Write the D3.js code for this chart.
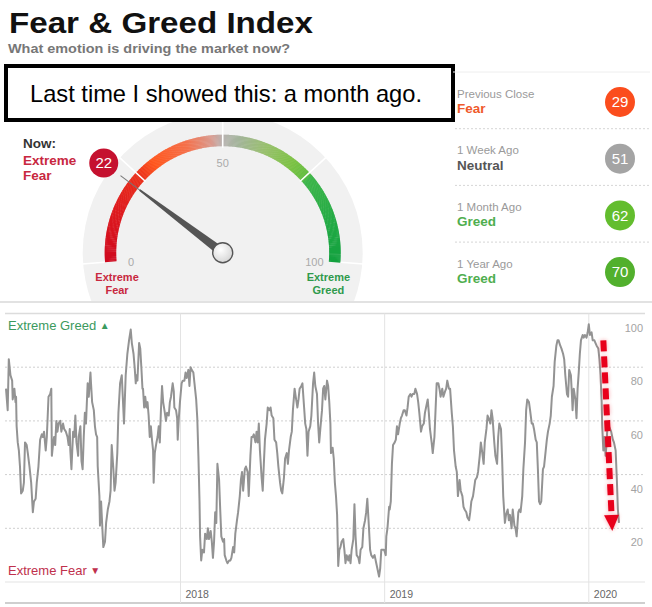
<!DOCTYPE html>
<html>
<head>
<meta charset="utf-8">
<script src="https://cdn.jsdelivr.net/npm/d3@7"></script>
<style>
  body { margin: 0; background: #fff; }
  svg { display: block; font-family: "Liberation Sans", Arial, Helvetica, sans-serif; }
</style>
</head>
<body>
<div id="chart"></div>
<script>
// ---- data ----
var titleText = "Fear & Greed Index";
var subtitleText = "What emotion is driving the market now?";
var noteText = "Last time I showed this: a month ago.";

var nowValue = 22;
var nowMood = ["Extreme", "Fear"];
var gaugeLabels = [0, 50, 100];
var gaugeEnds = [["Extreme", "Fear"], ["Extreme", "Greed"]];

var historyLabels = ["Previous Close", "1 Week Ago", "1 Month Ago", "1 Year Ago"];
var historyMoods = ["Fear", "Neutral", "Greed", "Greed"];
var historyValues = [29, 51, 62, 70];

var yTicks = [20, 40, 60, 80, 100];
var yearTicks = ["2018", "2019", "2020"];

var series2017 = [["2017-02-23",72],["2017-02-26",64],["2017-02-28",83],["2017-03-03",77],["2017-03-06",75],["2017-03-07",68],["2017-03-10",72],["2017-03-12",67],["2017-03-13",69],["2017-03-14",58],["2017-03-16",52],["2017-03-18",49],["2017-03-20",43],["2017-03-22",33],["2017-03-25",34],["2017-03-27",37],["2017-03-29",52],["2017-04-01",51],["2017-04-03",48],["2017-04-06",43],["2017-04-09",37],["2017-04-12",26],["2017-04-14",30],["2017-04-17",31],["2017-04-19",37],["2017-04-22",43],["2017-04-25",53],["2017-04-28",55],["2017-04-30",54],["2017-05-02",56],["2017-05-05",49],["2017-05-07",54],["2017-05-10",69],["2017-05-13",70],["2017-05-15",72],["2017-05-16",47],["2017-05-18",51],["2017-05-20",54],["2017-05-22",51],["2017-05-24",60],["2017-05-26",56],["2017-05-28",59],["2017-05-31",60],["2017-06-02",56],["2017-06-05",59],["2017-06-07",57],["2017-06-10",56],["2017-06-13",54],["2017-06-15",51],["2017-06-17",57],["2017-06-18",49],["2017-06-20",42],["2017-06-23",56],["2017-06-25",54],["2017-06-27",62],["2017-06-29",52],["2017-07-02",47],["2017-07-03",54],["2017-07-06",58],["2017-07-08",45],["2017-07-10",42],["2017-07-12",54],["2017-07-14",63],["2017-07-16",59],["2017-07-19",74],["2017-07-21",69],["2017-07-24",78],["2017-07-25",74],["2017-07-27",67],["2017-07-30",64],["2017-08-01",58],["2017-08-03",55],["2017-08-05",54],["2017-08-06",43],["2017-08-09",32],["2017-08-10",21],["2017-08-12",30],["2017-08-15",17],["2017-08-16",13],["2017-08-19",15],["2017-08-21",22],["2017-08-24",27],["2017-08-27",30],["2017-08-29",34],["2017-08-31",51],["2017-09-03",42],["2017-09-05",34],["2017-09-07",37],["2017-09-10",48],["2017-09-12",63],["2017-09-15",74],["2017-09-18",77],["2017-09-20",68],["2017-09-22",59],["2017-09-25",77],["2017-09-28",85],["2017-10-01",90],["2017-10-04",94],["2017-10-06",89],["2017-10-09",85],["2017-10-11",80],["2017-10-13",74],["2017-10-14",77],["2017-10-16",75],["2017-10-19",89],["2017-10-21",87],["2017-10-23",80],["2017-10-25",72],["2017-10-26",72],["2017-10-28",65],["2017-10-30",69],["2017-11-01",65],["2017-11-03",67],["2017-11-05",62],["2017-11-07",54],["2017-11-09",58],["2017-11-11",53],["2017-11-13",49],["2017-11-14",37],["2017-11-16",48],["2017-11-19",52],["2017-11-21",54],["2017-11-23",58],["2017-11-25",52],["2017-11-27",64],["2017-11-29",73],["2017-12-01",67],["2017-12-04",63],["2017-12-06",60],["2017-12-08",63],["2017-12-11",62],["2017-12-13",67],["2017-12-15",69],["2017-12-18",74],["2017-12-20",71],["2017-12-21",65],["2017-12-24",64],["2017-12-26",61],["2017-12-27",53],["2017-12-29",61],["2017-12-31",67]];

var series2018 = [["2018-01-03",74],["2018-01-05",75],["2018-01-08",75],["2018-01-10",78],["2018-01-12",76],["2018-01-15",79],["2018-01-17",73],["2018-01-19",80],["2018-01-21",79],["2018-01-24",78],["2018-01-26",74],["2018-01-29",68],["2018-01-31",61],["2018-02-02",47],["2018-02-04",30],["2018-02-05",17],["2018-02-07",8],["2018-02-09",12],["2018-02-12",11],["2018-02-14",18],["2018-02-17",16],["2018-02-19",20],["2018-02-21",16],["2018-02-24",19],["2018-02-26",15],["2018-02-28",9],["2018-03-02",15],["2018-03-04",26],["2018-03-06",22],["2018-03-08",44],["2018-03-09",42],["2018-03-11",38],["2018-03-13",27],["2018-03-15",17],["2018-03-18",15],["2018-03-20",16],["2018-03-21",10],["2018-03-24",8],["2018-03-26",7],["2018-03-29",8],["2018-03-31",8],["2018-04-02",9],["2018-04-05",13],["2018-04-07",11],["2018-04-09",18],["2018-04-12",23],["2018-04-14",26],["2018-04-17",32],["2018-04-19",38],["2018-04-21",41],["2018-04-23",34],["2018-04-26",42],["2018-04-28",43],["2018-05-01",41],["2018-05-03",32],["2018-05-06",47],["2018-05-08",54],["2018-05-10",54],["2018-05-12",55],["2018-05-15",52],["2018-05-17",56],["2018-05-19",52],["2018-05-21",59],["2018-05-23",49],["2018-05-26",39],["2018-05-28",34],["2018-05-30",44],["2018-06-01",53],["2018-06-04",59],["2018-06-06",65],["2018-06-09",64],["2018-06-11",65],["2018-06-13",62],["2018-06-16",61],["2018-06-18",53],["2018-06-21",52],["2018-06-23",48],["2018-06-25",43],["2018-06-28",37],["2018-06-30",34],["2018-07-02",33],["2018-07-05",39],["2018-07-07",46],["2018-07-10",48],["2018-07-12",44],["2018-07-14",49],["2018-07-17",54],["2018-07-19",56],["2018-07-21",64],["2018-07-24",72],["2018-07-26",69],["2018-07-29",65],["2018-07-31",68],["2018-08-02",72],["2018-08-05",73],["2018-08-07",74],["2018-08-10",65],["2018-08-12",59],["2018-08-14",57],["2018-08-16",47],["2018-08-18",56],["2018-08-21",58],["2018-08-23",62],["2018-08-26",74],["2018-08-28",78],["2018-08-30",73],["2018-09-02",70],["2018-09-04",59],["2018-09-06",52],["2018-09-08",57],["2018-09-11",64],["2018-09-13",72],["2018-09-15",73],["2018-09-17",68],["2018-09-20",75],["2018-09-22",73],["2018-09-24",67],["2018-09-26",59],["2018-09-27",48],["2018-09-30",50],["2018-10-02",46],["2018-10-04",37],["2018-10-06",32],["2018-10-08",25],["2018-10-10",6],["2018-10-12",12],["2018-10-14",13],["2018-10-16",15],["2018-10-19",16],["2018-10-21",12],["2018-10-23",7],["2018-10-25",10],["2018-10-28",8],["2018-10-30",10],["2018-11-01",7],["2018-11-03",12],["2018-11-06",16],["2018-11-08",29],["2018-11-10",17],["2018-11-12",10],["2018-11-15",9],["2018-11-17",7],["2018-11-19",12],["2018-11-22",13],["2018-11-24",20],["2018-11-27",23],["2018-11-29",26],["2018-12-01",31],["2018-12-04",20],["2018-12-06",12],["2018-12-08",10],["2018-12-11",9],["2018-12-14",10],["2018-12-17",7],["2018-12-19",5],["2018-12-22",2],["2018-12-24",5],["2018-12-26",12],["2018-12-29",12],["2018-12-31",12]];

var series2019 = [["2019-01-03",10],["2019-01-04",17],["2019-01-06",20],["2019-01-09",28],["2019-01-10",27],["2019-01-12",30],["2019-01-14",44],["2019-01-16",51],["2019-01-19",52],["2019-01-21",53],["2019-01-23",58],["2019-01-25",55],["2019-01-28",59],["2019-01-30",61],["2019-02-01",62],["2019-02-04",64],["2019-02-06",64],["2019-02-09",62],["2019-02-11",65],["2019-02-13",69],["2019-02-16",70],["2019-02-18",69],["2019-02-20",70],["2019-02-23",70],["2019-02-25",72],["2019-02-28",70],["2019-03-02",67],["2019-03-04",63],["2019-03-07",56],["2019-03-09",58],["2019-03-12",59],["2019-03-14",63],["2019-03-16",65],["2019-03-19",68],["2019-03-21",63],["2019-03-23",57],["2019-03-26",52],["2019-03-28",48],["2019-03-31",54],["2019-04-02",64],["2019-04-04",74],["2019-04-07",74],["2019-04-09",72],["2019-04-11",69],["2019-04-14",72],["2019-04-16",69],["2019-04-19",71],["2019-04-21",72],["2019-04-23",75],["2019-04-26",72],["2019-04-28",72],["2019-05-01",63],["2019-05-03",58],["2019-05-05",49],["2019-05-08",43],["2019-05-10",41],["2019-05-12",32],["2019-05-15",38],["2019-05-17",34],["2019-05-20",32],["2019-05-22",28],["2019-05-24",27],["2019-05-27",26],["2019-05-29",24],["2019-06-01",23],["2019-06-03",26],["2019-06-05",30],["2019-06-08",32],["2019-06-10",35],["2019-06-12",38],["2019-06-15",39],["2019-06-17",41],["2019-06-20",47],["2019-06-22",52],["2019-06-24",49],["2019-06-27",44],["2019-06-29",52],["2019-07-02",57],["2019-07-04",62],["2019-07-06",61],["2019-07-09",59],["2019-07-11",64],["2019-07-13",61],["2019-07-16",52],["2019-07-18",47],["2019-07-21",44],["2019-07-23",54],["2019-07-25",59],["2019-07-28",57],["2019-07-30",46],["2019-08-01",32],["2019-08-04",22],["2019-08-06",25],["2019-08-09",27],["2019-08-11",23],["2019-08-13",25],["2019-08-16",20],["2019-08-18",27],["2019-08-21",21],["2019-08-23",20],["2019-08-25",17],["2019-08-28",26],["2019-08-30",27],["2019-09-01",26],["2019-09-04",32],["2019-09-06",42],["2019-09-09",52],["2019-09-11",64],["2019-09-13",68],["2019-09-16",67],["2019-09-18",64],["2019-09-21",59],["2019-09-23",59],["2019-09-25",57],["2019-09-28",53],["2019-09-30",52],["2019-10-02",42],["2019-10-04",30],["2019-10-06",29],["2019-10-08",30],["2019-10-11",42],["2019-10-13",43],["2019-10-16",49],["2019-10-18",53],["2019-10-20",56],["2019-10-23",59],["2019-10-25",62],["2019-10-27",69],["2019-10-30",73],["2019-11-01",82],["2019-11-04",88],["2019-11-06",90],["2019-11-08",90],["2019-11-11",88],["2019-11-13",87],["2019-11-16",85],["2019-11-18",83],["2019-11-20",77],["2019-11-23",70],["2019-11-25",69],["2019-11-27",79],["2019-11-30",77],["2019-12-02",69],["2019-12-03",64],["2019-12-05",72],["2019-12-08",68],["2019-12-10",61],["2019-12-12",72],["2019-12-14",78],["2019-12-16",85],["2019-12-18",90],["2019-12-21",92],["2019-12-23",91],["2019-12-25",92],["2019-12-28",91],["2019-12-30",93]];

var series2020 = [["2020-01-01",96],["2020-01-03",92],["2020-01-06",93],["2020-01-08",90],["2020-01-11",90],["2020-01-13",89],["2020-01-15",88],["2020-01-18",87],["2020-01-20",83],["2020-01-22",77],["2020-01-24",67],["2020-01-25",58],["2020-01-27",49],["2020-01-29",54],["2020-01-31",47],["2020-02-02",52],["2020-02-03",57],["2020-02-06",58],["2020-02-08",57],["2020-02-10",56],["2020-02-13",53],["2020-02-15",52],["2020-02-18",49],["2020-02-20",39],["2020-02-22",27],["2020-02-24",22]];

// red annotation arrow, in data terms (date, index value)
var arrowFrom = ["2020-01-27", 90];
var arrowTo = ["2020-02-12", 19];

// ---- setup ----
var W = 652, H = 607;
var parse = d3.timeParse("%Y-%m-%d");
var series = [].concat(series2017, series2018, series2019, series2020).map(function(d) {
    return { date: parse(d[0]), value: d[1] };
});

var svg = d3.select("#chart")
    .append("svg")
    .attr("width", W)
    .attr("height", H);

var defs = svg.append("defs");

// ---- gauge ----
var cx = 222.7, cy = 252.7;
var deg = Math.PI / 180;
var angle = d3.scaleLinear().domain([0, 100]).range([-94.6 * deg, 94.6 * deg]);
var gaugeColor = d3.scaleLinear()
    .domain([0, 15, 25, 30, 40, 47, 50, 54, 62, 70, 75, 76, 90, 100])
    .range(["#cf0a1f", "#df1b1d", "#ea301b", "#ff561d", "#f5704a", "#d99a8e", "#b9b4b2",
            "#a4b49c", "#98c06c", "#7dc244", "#62bd40", "#3db54a", "#22aa45", "#13a13f"]);

// background disc stops at the rule above the history chart
defs.append("clipPath").attr("id", "gclip")
    .append("rect").attr("x", -cx).attr("y", -cy).attr("width", W).attr("height", 301);

var gauge = svg.append("g").attr("transform", "translate(" + cx + "," + cy + ")");

gauge.append("circle")
    .attr("r", 140)
    .attr("clip-path", "url(#gclip)")
    .attr("fill", "#f1f1f1");

var arc = d3.arc().innerRadius(106.5).outerRadius(118);
var slices = d3.range(0, 100, 0.25);
gauge.selectAll("path.slice")
    .data(slices)
    .enter().append("path")
    .attr("class", "slice")
    .attr("d", function(v) { return arc({ startAngle: angle(v), endAngle: angle(Math.min(100, v + 0.25)) + 0.004 }); })
    .attr("fill", function(v) { return gaugeColor(v + 0.125); });

// white dividers / ticks
gauge.selectAll("line.gtick")
    .data([0, 25, 50, 75, 100])
    .enter().append("line")
    .attr("class", "gtick")
    .attr("x1", function(v) { var r = (v === 0 || v === 100) ? 118.5 : 105; return r * Math.sin(angle(v)); })
    .attr("y1", function(v) { var r = (v === 0 || v === 100) ? 118.5 : 105; return -r * Math.cos(angle(v)); })
    .attr("x2", function(v) { return 141 * Math.sin(angle(v)); })
    .attr("y2", function(v) { return -141 * Math.cos(angle(v)); })
    .attr("stroke", "#fff")
    .attr("stroke-width", 1.6);

gauge.selectAll("text.glabel")
    .data(gaugeLabels)
    .enter().append("text")
    .attr("class", "glabel")
    .attr("x", function(v) { return 92 * Math.sin(angle(v)); })
    .attr("y", function(v) { return -90 * Math.cos(angle(v)) + (v === 50 ? 0 : 2); })
    .attr("dy", "0.35em")
    .attr("text-anchor", "middle")
    .attr("font-size", 11)
    .attr("fill", "#aaa")
    .text(function(v) { return v; });

gaugeEnds.forEach(function(lines, i) {
    var v = i === 0 ? 0 : 100;
    var t = gauge.append("text")
        .attr("x", 106 * Math.sin(angle(v)))
        .attr("y", 28)
        .attr("text-anchor", "middle")
        .attr("font-size", 11)
        .attr("font-weight", "bold")
        .attr("fill", i === 0 ? "#c8283f" : "#2f9a4c");
    lines.forEach(function(s, j) {
        t.append("tspan").attr("x", 106 * Math.sin(angle(v))).attr("dy", j === 0 ? 0 : 13.5).text(s);
    });
});

// needle
var needleDeg = angle(nowValue) / deg;
var needle = gauge.append("g").attr("transform", "rotate(" + needleDeg + ")");
needle.append("line")
    .attr("x1", 0).attr("y1", 0).attr("x2", 0).attr("y2", -128)
    .attr("stroke", "#777").attr("stroke-width", 1);
needle.append("path")
    .attr("d", "M-4.6,0 L-0.9,-104 L0.9,-104 L4.6,0 Z")
    .attr("fill", "#555");

var knob = defs.append("radialGradient").attr("id", "knob").attr("cx", "40%").attr("cy", "35%").attr("r", "70%");
knob.append("stop").attr("offset", "0%").attr("stop-color", "#ffffff");
knob.append("stop").attr("offset", "100%").attr("stop-color", "#d4d4d4");
gauge.append("circle")
    .attr("r", 10)
    .attr("fill", "url(#knob)")
    .attr("stroke", "#555")
    .attr("stroke-width", 1.4);

// "now" badge on the needle's line
var badgeR = 149;
gauge.append("circle")
    .attr("cx", badgeR * Math.sin(angle(nowValue)))
    .attr("cy", -badgeR * Math.cos(angle(nowValue)))
    .attr("r", 14.5)
    .attr("fill", "#c5112f");
gauge.append("text")
    .attr("x", badgeR * Math.sin(angle(nowValue)))
    .attr("y", -badgeR * Math.cos(angle(nowValue)))
    .attr("dy", "0.36em")
    .attr("text-anchor", "middle")
    .attr("font-size", 15)
    .attr("fill", "#fff")
    .text(nowValue);

svg.append("text")
    .attr("x", 23).attr("y", 148)
    .attr("font-size", 13.5).attr("font-weight", "bold").attr("fill", "#333")
    .text("Now:");
nowMood.forEach(function(s, i) {
    svg.append("text")
        .attr("x", 23).attr("y", 165 + i * 15)
        .attr("font-size", 13.5).attr("font-weight", "bold").attr("fill", "#c8283f")
        .text(s);
});

// ---- header + note box ----
svg.append("text")
    .attr("x", 9).attr("y", 33)
    .attr("font-size", 29).attr("font-weight", "bold").attr("fill", "#111")
    .attr("textLength", 304).attr("lengthAdjust", "spacingAndGlyphs")
    .text(titleText);
svg.append("text")
    .attr("x", 8).attr("y", 52.5)
    .attr("font-size", 13).attr("font-weight", "bold").attr("fill", "#777")
    .attr("textLength", 282).attr("lengthAdjust", "spacingAndGlyphs")
    .text(subtitleText);

svg.append("rect")
    .attr("x", 6).attr("y", 66).attr("width", 447).attr("height", 54)
    .attr("fill", "#fff").attr("stroke", "#000").attr("stroke-width", 4);
svg.append("text")
    .attr("x", 30).attr("y", 101.5)
    .attr("font-size", 24).attr("fill", "#000")
    .attr("textLength", 392).attr("lengthAdjust", "spacingAndGlyphs")
    .text(noteText);

// ---- history list on the right ----
var moodColor = { "Fear": "#ef5a2c", "Neutral": "#555", "Greed": "#4fae4f" };
var circleColor = d3.scaleThreshold().domain([25, 45, 56, 66]).range(["#c5112f", "#fb4d1d", "#a4a4a4", "#63bd2e", "#52b02d"]);
var rows = d3.scaleBand().domain(historyLabels).range([72, 298.8]);

svg.append("line").attr("x1", 453).attr("x2", 650).attr("y1", 72).attr("y2", 72)
    .attr("stroke", "#eee").attr("stroke-width", 1);

var row = svg.selectAll("g.row")
    .data(historyLabels)
    .enter().append("g")
    .attr("class", "row")
    .attr("transform", function(d) { return "translate(0," + rows(d) + ")"; });

row.filter(function(d, i) { return i > 0; })
    .append("line")
    .attr("x1", 455).attr("x2", 650).attr("y1", 0).attr("y2", 0)
    .attr("stroke", "#d6d6d6").attr("stroke-dasharray", "2,2");

row.append("text")
    .attr("x", 457).attr("y", 25.5)
    .attr("font-size", 11.5).attr("fill", "#9a9a9a")
    .text(function(d) { return d; });
row.append("text")
    .attr("x", 457).attr("y", 41)
    .attr("font-size", 13.5).attr("font-weight", "bold")
    .attr("fill", function(d, i) { return moodColor[historyMoods[i]]; })
    .text(function(d, i) { return historyMoods[i]; });
row.append("circle")
    .attr("cx", 620).attr("cy", 30).attr("r", 15)
    .attr("fill", function(d, i) { return circleColor(historyValues[i]); });
row.append("text")
    .attr("x", 620).attr("y", 30).attr("dy", "0.36em")
    .attr("text-anchor", "middle").attr("font-size", 15).attr("fill", "#fff")
    .text(function(d, i) { return historyValues[i]; });

// separator above the history chart
svg.append("line").attr("x1", 0).attr("x2", W).attr("y1", 302).attr("y2", 302)
    .attr("stroke", "#e2e2e2").attr("stroke-width", 2);

// ---- history line chart ----
var x = d3.scaleTime()
    .domain(d3.extent(series, function(d) { return d.date; }))
    .range([6, 619]);
var y = d3.scaleLinear().domain([0, 100]).range([582, 313.5]);

var plot = svg.append("g");

plot.selectAll("line.grid")
    .data(yTicks.filter(function(v) { return v < 100; }))
    .enter().append("line")
    .attr("class", "grid")
    .attr("x1", 5).attr("x2", 645)
    .attr("y1", function(v) { return y(v); }).attr("y2", function(v) { return y(v); })
    .attr("stroke", "#cfcfcf").attr("stroke-dasharray", "2,2");

plot.append("line").attr("x1", 5).attr("x2", 645).attr("y1", y(100)).attr("y2", y(100))
    .attr("stroke", "#dcdcdc").attr("stroke-width", 1.5);
plot.append("line").attr("x1", 5).attr("x2", 645).attr("y1", y(0)).attr("y2", y(0))
    .attr("stroke", "#e4e4e4").attr("stroke-width", 1.2);
plot.append("line").attr("x1", 5).attr("x2", 645).attr("y1", 603).attr("y2", 603)
    .attr("stroke", "#cfcfcf").attr("stroke-width", 2);

plot.selectAll("line.year")
    .data(yearTicks)
    .enter().append("line")
    .attr("class", "year")
    .attr("x1", function(d) { return x(parse(d + "-01-01")); })
    .attr("x2", function(d) { return x(parse(d + "-01-01")); })
    .attr("y1", y(100)).attr("y2", 603)
    .attr("stroke", "#e3e3e3").attr("stroke-width", 1);

plot.selectAll("text.year")
    .data(yearTicks)
    .enter().append("text")
    .attr("class", "year")
    .attr("x", function(d) { return x(parse(d + "-01-01")) + 5; })
    .attr("y", 598)
    .attr("font-size", 10.5).attr("fill", "#666")
    .text(function(d) { return d; });

plot.selectAll("text.ytick")
    .data(yTicks)
    .enter().append("text")
    .attr("class", "ytick")
    .attr("x", 643)
    .attr("y", function(v) { return y(v) + 18; })
    .attr("text-anchor", "end")
    .attr("font-size", 11).attr("fill", "#a3a3a3")
    .text(function(v) { return v; });

var greed = plot.append("text").attr("x", 8).attr("y", 330)
    .attr("font-size", 13).attr("fill", "#3b9a5e");
greed.append("tspan").text("Extreme Greed ");
greed.append("tspan").attr("font-size", 10).attr("dy", -1).text("▲");

var fear = plot.append("text").attr("x", 8).attr("y", 575)
    .attr("font-size", 13).attr("fill", "#c0304c");
fear.append("tspan").text("Extreme Fear ");
fear.append("tspan").attr("font-size", 10).attr("dy", -1).text("▼");

var line = d3.line()
    .x(function(d) { return x(d.date); })
    .y(function(d) { return y(d.value); });

plot.append("path")
    .datum(series)
    .attr("fill", "none")
    .attr("stroke", "#939393")
    .attr("stroke-width", 2)
    .attr("stroke-linejoin", "round")
    .attr("d", line);

// ---- red dashed arrow ----
var ax1 = x(parse(arrowFrom[0])), ay1 = y(arrowFrom[1]);
var ax2 = x(parse(arrowTo[0])), ay2 = y(arrowTo[1]);
var len = Math.hypot(ax2 - ax1, ay2 - ay1);
var ux = (ax2 - ax1) / len, uy = (ay2 - ay1) / len;
var headLen = 16, headHalf = 7.5;
var bx = ax2 - ux * headLen, by = ay2 - uy * headLen;
var head = [[ax2, ay2], [bx - uy * headHalf, by + ux * headHalf], [bx + uy * headHalf, by - ux * headHalf]];

var glow = defs.append("filter").attr("id", "glow").attr("x", "-50%").attr("y", "-10%").attr("width", "200%").attr("height", "120%");
glow.append("feGaussianBlur").attr("stdDeviation", 2);

var arrow = svg.append("g");
[true, false].forEach(function(blur) {
    var g = arrow.append("g")
        .attr("opacity", blur ? 0.35 : 1)
        .attr("filter", blur ? "url(#glow)" : null);
    g.append("line")
        .attr("x1", ax1).attr("y1", ay1).attr("x2", bx).attr("y2", by)
        .attr("stroke", "#e8001b").attr("stroke-width", 6)
        .attr("stroke-dasharray", "11,5");
    g.append("path")
        .attr("d", "M" + head.join("L") + "Z")
        .attr("fill", "#e8001b");
});
</script>
</body>
</html>
